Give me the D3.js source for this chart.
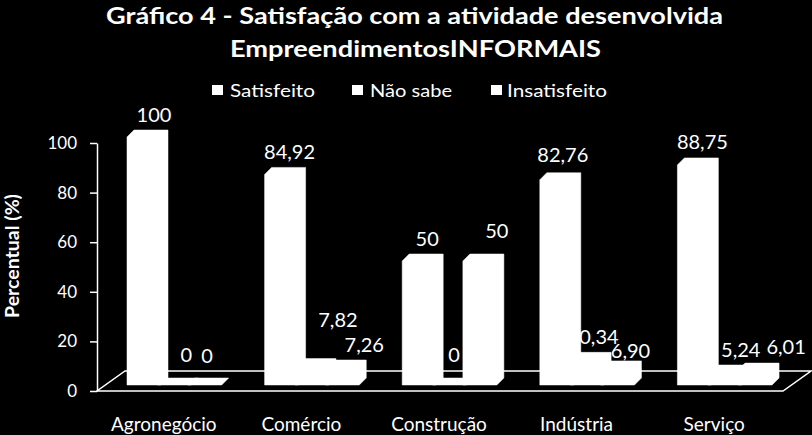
<!DOCTYPE html>
<html><head><meta charset="utf-8">
<script src="https://cdn.jsdelivr.net/npm/d3@7/dist/d3.min.js"></script>
<style>
html,body{margin:0;padding:0;background:#000;}
svg{display:block;}
text{font-family:Lato,"Open Sans",sans-serif;fill:#fff;}
</style></head>
<body>
<svg id="chart" width="812" height="435"></svg>
<script>
// ---- data ----
const titleLines = ["Gráfico 4 - Satisfação com a atividade desenvolvida", "EmpreendimentosINFORMAIS"];
const categories = ["Agronegócio", "Comércio", "Construção", "Indústria", "Serviço"];
const seriesNames = ["Satisfeito", "Não sabe", "Insatisfeito"];
const satisfeito   = [100, 84.92, 50, 82.76, 88.75];
const naoSabe      = [0, 7.82, 0, 10.34, 5.24];
const insatisfeito = [0, 7.26, 50, 6.90, 6.01];
const yTicks = [0, 20, 40, 60, 80, 100];
const yTitle = "Percentual (%)";

const seriesValues = [satisfeito, naoSabe, insatisfeito];

// ---- layout ----
const svg = d3.select("#chart");
svg.append("rect").attr("width", 812).attr("height", 435).attr("fill", "#000");

const x = d3.scaleBand().domain(categories).range([95, 783]).padding(0);
const y = d3.scaleLinear().domain([0, 100]).range([391, 143]);
const xs = d3.scaleBand().domain(seriesNames).range([0, 91]).padding(0); // series step inside band

const floorDepth = {dx: 28, dy: -20};
const barInset = {dx: 8, dy: -6};
const barDepth = {dx: 7, dy: -7};
const barLead = 24;
const barW = 34;

// label nudges (Excel collision placement), per category / series
const labelNudge = [
  [[2, 0], [4, -8], [-5.5, -7]],
  [[0, 0], [18, -23.6], [14, 0]],
  [[0, 0], [-3.5, -8], [9, -8]],
  [[-2, -3], [-2, 0], [5, 5]],
  [[0, -1], [8, 0], [23, -1]]
];

// title
const titleLayout = [{cx: 414.5, y: 24, w: 617}, {cx: 415.5, y: 57, w: 371}];
titleLines.forEach((t, i) => {
  svg.append("text")
    .attr("x", titleLayout[i].cx).attr("y", titleLayout[i].y)
    .attr("text-anchor", "middle")
    .attr("font-size", 23).attr("font-weight", "bold")
    .attr("textLength", titleLayout[i].w).attr("lengthAdjust", "spacingAndGlyphs")
    .text(t);
});

// legend
const legendLayout = [{sx: 212, tx: 230, w: 85}, {sx: 352, tx: 370, w: 82}, {sx: 491, tx: 507, w: 100}];
seriesNames.forEach((s, i) => {
  svg.append("rect").attr("x", legendLayout[i].sx).attr("y", 85).attr("width", 11).attr("height", 10).attr("fill", "#fff");
  svg.append("text").attr("x", legendLayout[i].tx).attr("y", 97)
    .attr("font-size", 17.5)
    .attr("textLength", legendLayout[i].w).attr("lengthAdjust", "spacingAndGlyphs")
    .text(s);
});

// floor
const x0 = 97, x1 = 783, yf = y(0);
svg.append("polygon")
  .attr("points", [[x0, yf], [x1, yf], [x1 + floorDepth.dx, yf + floorDepth.dy], [x0 + floorDepth.dx, yf + floorDepth.dy]].map(p => p.join(",")).join(" "))
  .attr("fill", "#000").attr("stroke", "#fff").attr("stroke-width", 1.5);

// y axis
const yAxis = d3.axisLeft(y).tickValues(yTicks).tickSize(7).tickSizeOuter(0).tickPadding(13);
const ga = svg.append("g").attr("transform", `translate(${x0},0)`).call(yAxis);
ga.selectAll("path,line").attr("stroke", "#fff").attr("stroke-width", 1.5);
ga.selectAll("text").attr("fill", "#fff").attr("font-size", 17)
  .style("font-family", "Lato, 'Open Sans', sans-serif");

svg.append("text")
  .attr("transform", `translate(19,${(143 + 391) / 2 - 11}) rotate(-90)`)
  .attr("text-anchor", "middle").attr("font-size", 19.5).attr("font-weight", "bold")
  .text(yTitle);

// bars
const fmt = v => Number.isInteger(v) ? String(v) : v.toFixed(2).replace(".", ",");
const bars = [];
categories.forEach((c, ci) => {
  seriesNames.forEach((s, si) => {
    const v = seriesValues[si][ci];
    const fx = x(c) + barLead + barInset.dx + xs(s);
    const yb = y(0) + barInset.dy;
    const yt = y(v) + barInset.dy;
    bars.push({c, s, ci, si, v, fx, yb, yt});
  });
});

svg.append("g").selectAll("polygon").data(bars).join("polygon")
  .attr("points", d => [
      [d.fx, d.yb], [d.fx, d.yt], [d.fx + barDepth.dx, d.yt + barDepth.dy],
      [d.fx + barW + barDepth.dx, d.yt + barDepth.dy], [d.fx + barW + barDepth.dx, d.yb + barDepth.dy],
      [d.fx + barW, d.yb]
    ].map(p => p.join(",")).join(" "))
  .attr("fill", "#fff").attr("stroke", "#fff").attr("stroke-width", 0.5);

// value labels
svg.append("g").selectAll("text").data(bars).join("text")
  .attr("x", d => d.fx + barW / 2 + 8 + labelNudge[d.ci][d.si][0])
  .attr("y", d => y(d.v) - 21 + labelNudge[d.ci][d.si][1])
  .attr("text-anchor", "middle").attr("font-size", 20)
  .text(d => fmt(d.v));

// category labels
svg.append("g").selectAll("text").data(categories).join("text")
  .attr("x", d => x(d) + x.bandwidth() / 2)
  .attr("y", 431)
  .attr("text-anchor", "middle").attr("font-size", 19)
  .text(d => d);
</script>
</body></html>
